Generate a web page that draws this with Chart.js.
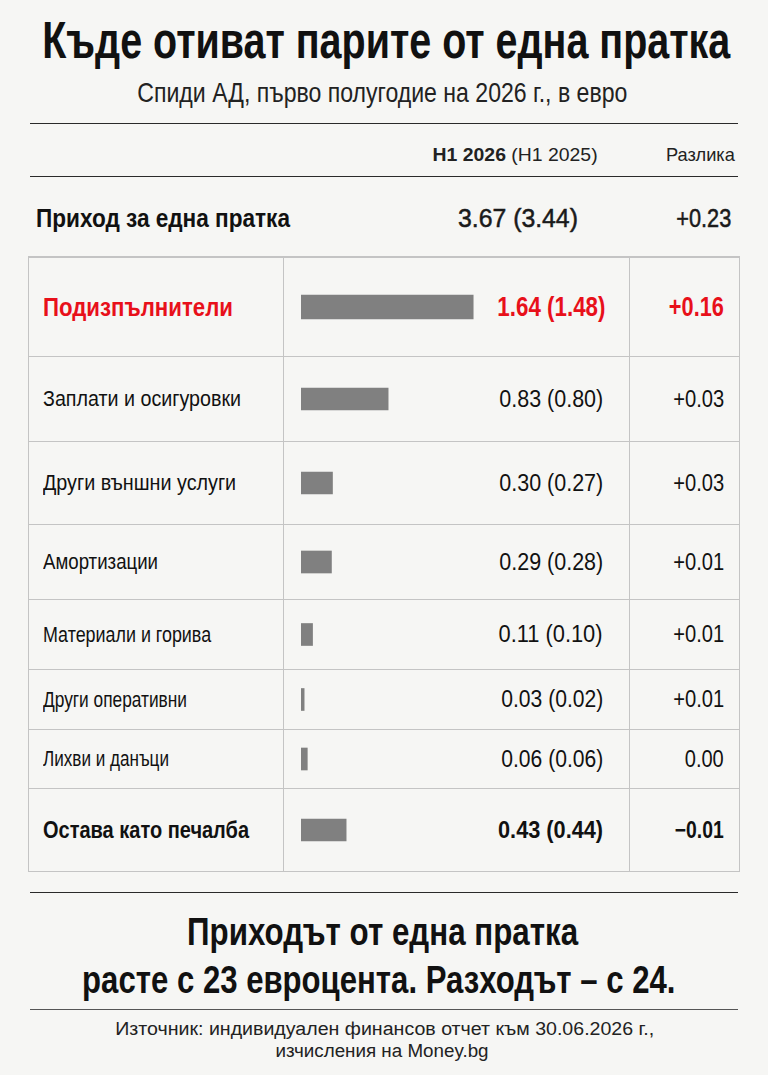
<!DOCTYPE html>
<html>
<head>
<meta charset="utf-8">
<script src="https://cdn.jsdelivr.net/npm/chart.js@4.4.1/dist/chart.umd.min.js"></script>
<style>
  html, body { margin: 0; padding: 0; background: #f6f6f4; }
  body { width: 768px; height: 1075px; position: relative; overflow: hidden;
         font-family: "Liberation Sans", Arial, sans-serif; color: #111; }
  .abs { position: absolute; white-space: nowrap; }
  .ctr { position: absolute; left: 0; display: flex; justify-content: center; white-space: nowrap; }
  .t { display: inline-block; white-space: nowrap; flex: none; }
  .hline { position: absolute; left: 30px; width: 708px; height: 0; border-top: 1.5px solid #2a2a2a; }
  #table { position: absolute; left: 28px; top: 256px; width: 712px; border: 1px solid #c4c4c4; box-sizing: border-box; }
  .row { position: relative; border-top: 1px solid #c4c4c4; box-sizing: border-box; }
  .row:first-child { border-top: none; }
  .cell { position: absolute; top: 0; bottom: 0; display: flex; align-items: center; white-space: nowrap; }
  .row canvas { position: absolute; left: 272px; top: 0; }
  .vline { position: absolute; top: 0; bottom: 0; width: 0; border-left: 1px solid #c4c4c4; }
  .semi { -webkit-text-stroke: 0.5px currentColor; }
</style>
</head>
<body>

<div class="ctr" style="width:772px; top:12px; line-height:56px; font-size:52px; font-weight:bold;">
  <span class="t" data-w="688">Къде отиват парите от една пратка</span></div>
<div class="ctr" style="width:764px; top:76px; line-height:34px; font-size:28px; color:#222;">
  <span class="t" data-w="490">Спиди АД, първо полугодие на 2026 г., в евро</span></div>
<div class="hline" style="top:123px;"></div>

<div class="abs" style="right:170px; top:143px; line-height:24px; font-size:19px; color:#222;">
  <span class="t" data-w="165" data-o="right"><b>H1 2026</b> (H1 2025)</span></div>
<div class="abs" style="right:33px; top:143px; line-height:24px; font-size:19px; color:#222;">
  <span class="t" data-w="69" data-o="right">Разлика</span></div>
<div class="hline" style="top:176px;"></div>

<div class="abs" style="left:36px; top:203px; line-height:30px; font-size:25px; font-weight:bold;">
  <span class="t" data-w="254" data-o="left" id="revLabel"></span></div>
<div class="abs" style="right:190px; top:203px; line-height:30px; font-size:25px; color:#1a1a1a;">
  <span class="t semi" data-w="120" data-o="right" id="revValue"></span></div>
<div class="abs" style="right:37px; top:203px; line-height:30px; font-size:25px; color:#1a1a1a;">
  <span class="t semi" data-w="55" data-o="right" id="revDiff"></span></div>

<div id="table">
  <div class="vline" style="left:254px;"></div>
  <div class="vline" style="left:600px;"></div>
</div>

<div class="hline" style="top:892px;"></div>
<div class="ctr" style="width:766px; top:909px; line-height:46px; font-size:39px; font-weight:bold;">
  <span class="t" data-w="391">Приходът от една пратка</span></div>
<div class="ctr" style="width:757px; top:957px; line-height:46px; font-size:39px; font-weight:bold;">
  <span class="t" data-w="593">расте с 23 евроцента. Разходът – с 24.</span></div>
<div class="hline" style="top:1009px; border-top:1px solid #555;"></div>
<div class="ctr" style="width:769px; top:1018px; line-height:22px; font-size:18px; color:#222;">
  <span class="t" data-w="539">Източник: индивидуален финансов отчет към 30.06.2026 г.,</span></div>
<div class="ctr" style="width:765px; top:1040px; line-height:22px; font-size:18px; color:#222;">
  <span class="t" data-w="213">изчисления на Money.bg</span></div>

<script>
// data
const revenueLabel = 'Приход за една пратка';
const revenue2026 = 3.67;
const revenue2025 = 3.44;
const revenueDiff = '+0.23';

const categories = ['Подизпълнители', 'Заплати и осигуровки', 'Други външни услуги', 'Амортизации',
  'Материали и горива', 'Други оперативни', 'Лихви и данъци', 'Остава като печалба'];
const values2026 = [1.64, 0.83, 0.30, 0.29, 0.11, 0.03, 0.06, 0.43];
const values2025 = [1.48, 0.80, 0.27, 0.28, 0.10, 0.02, 0.06, 0.44];
const diffLabels = ['+0.16', '+0.03', '+0.03', '+0.01', '+0.01', '+0.01', '0.00', '−0.01'];

// layout / styles
const rowHeights = [99, 85, 83, 75, 70, 60, 59, 83];
const labelSizes = [25, 22, 22, 22, 22, 22, 22, 24];
const labelWidths = [190, 198, 193, 115, 168, 144, 126, 206];
const valueSizes = [28, 23, 23, 23, 23, 23, 23, 24];
const valueWidths = [108, 104, 104, 104, 104, 102, 102, 105];
const diffWidths = [55, 51, 51, 51, 51, 51, 39, 49];
const barColor = '#808080';
const red = '#e8101a';

document.getElementById('revLabel').textContent = revenueLabel;
document.getElementById('revValue').textContent = revenue2026.toFixed(2) + ' (' + revenue2025.toFixed(2) + ')';
document.getElementById('revDiff').textContent = revenueDiff;

const table = document.getElementById('table');

function addCell(row, text, size, width, bold, color, pos) {
  const cell = document.createElement('div');
  cell.className = 'cell';
  Object.assign(cell.style, pos);
  const span = document.createElement('span');
  span.className = 't';
  span.textContent = text;
  span.dataset.w = width;
  span.dataset.o = pos.right !== undefined ? 'right' : 'left';
  span.style.fontSize = size + 'px';
  span.style.fontWeight = bold ? 'bold' : 'normal';
  span.style.color = color;
  cell.appendChild(span);
  row.appendChild(cell);
}

categories.forEach(function (cat, i) {
  const row = document.createElement('div');
  row.className = 'row';
  row.style.height = rowHeights[i] + 'px';

  const highlight = i === 0;
  const bold = i === 0 || i === categories.length - 1;
  const color = highlight ? red : '#111';

  addCell(row, cat, labelSizes[i], labelWidths[i], bold, color, { left: '14px' });
  addCell(row, values2026[i].toFixed(2) + ' (' + values2025[i].toFixed(2) + ')',
    valueSizes[i], valueWidths[i], bold, color, { right: (i === 0 ? 134 : 136) + 'px' });
  addCell(row, diffLabels[i], valueSizes[i], diffWidths[i], bold, color, { right: '15px' });

  const canvas = document.createElement('canvas');
  canvas.width = 210;
  canvas.height = rowHeights[i] - 1;
  canvas.style.width = '210px';
  canvas.style.height = (rowHeights[i] - 1) + 'px';
  row.appendChild(canvas);

  table.appendChild(row);

  new Chart(canvas, {
    type: 'bar',
    data: {
      labels: [cat],
      datasets: [{
        data: [values2026[i]],
        backgroundColor: barColor,
        borderWidth: 0,
        barThickness: highlight ? 24 : 22
      }]
    },
    options: {
      indexAxis: 'y',
      responsive: false,
      animation: false,
      layout: { padding: 0 },
      plugins: { legend: { display: false }, tooltip: { enabled: false } },
      scales: {
        x: { display: false, min: 0, max: 2 },
        y: { display: false }
      }
    }
  });
});

// squeeze every text horizontally to the narrow width of the original
document.querySelectorAll('.t').forEach(function (span) {
  const w = span.getBoundingClientRect().width;
  const target = parseFloat(span.dataset.w);
  span.style.transformOrigin = span.dataset.o === 'right' ? 'right center' :
    (span.dataset.o === 'left' ? 'left center' : 'center center');
  span.style.transform = 'scaleX(' + (target / w).toFixed(3) + ')';
});
</script>
</body>
</html>
